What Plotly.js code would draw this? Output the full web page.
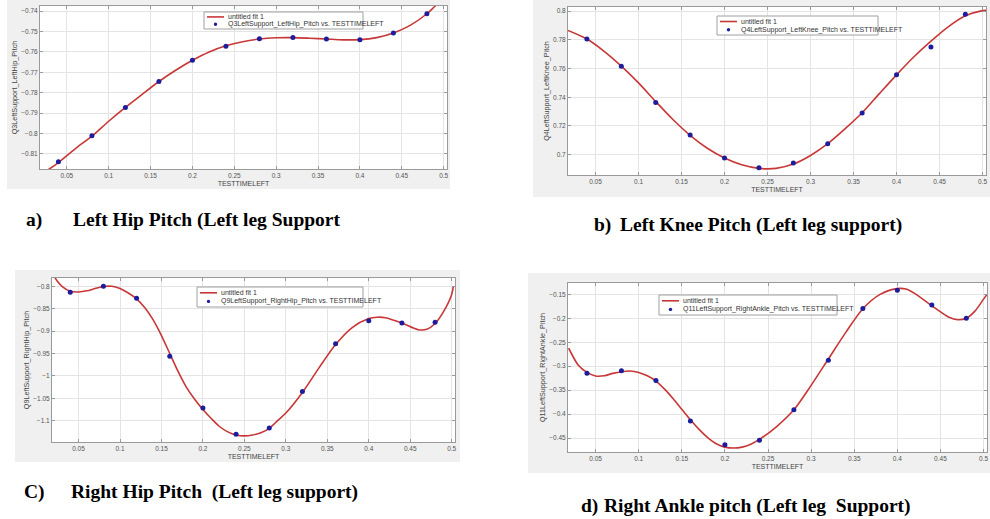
<!DOCTYPE html>
<html>
<head>
<meta charset="utf-8">
<script src="https://cdn.plot.ly/plotly-3.0.1.min.js"></script>
<style>html,body{margin:0;padding:0;background:#fff;}#chart{width:990px;height:519px;}</style>
</head>
<body>
<div id="chart"></div>
<script>
// ---- sample times of measured points ----
const sampleTime = [0.04, 0.08, 0.12, 0.16, 0.20, 0.24, 0.28, 0.32, 0.36, 0.40, 0.44, 0.48];

// ---- measured joint angles ----
const leftHipPitch    = [-0.8139, -0.8011, -0.7872, -0.7745, -0.7641, -0.7572, -0.7536, -0.7529, -0.7537, -0.7540, -0.7507, -0.7413];
const leftKneePitch   = [0.7805, 0.7616, 0.7363, 0.7137, 0.6977, 0.6909, 0.6942, 0.7077, 0.7290, 0.7556, 0.7749, 0.7977];
const rightHipPitch   = [-0.8134, -0.8000, -0.8268, -0.9560, -1.0717, -1.1305, -1.1164, -1.0350, -0.9280, -0.8766, -0.8820, -0.8800];
const rightAnklePitch = [-0.3150, -0.3097, -0.3300, -0.4146, -0.4639, -0.4549, -0.3910, -0.2875, -0.1793, -0.1417, -0.1724, -0.2000];

// ---- fitted curves ("untitled fit 1") ----
const fitTimeA = [0.025, 0.04, 0.06, 0.08, 0.10, 0.12, 0.14, 0.16, 0.18, 0.20, 0.22, 0.24, 0.26, 0.28, 0.30, 0.32, 0.34, 0.36, 0.38, 0.40, 0.42, 0.44, 0.46, 0.48, 0.49, 0.50];
const fitHipL  = [-0.8185, -0.8143, -0.8075, -0.8013, -0.7940, -0.7872, -0.7808, -0.7745, -0.7690, -0.7641, -0.7600, -0.7570, -0.7550, -0.7537, -0.7531, -0.7530, -0.7533, -0.7537, -0.7541, -0.7540, -0.7530, -0.7507, -0.7470, -0.7413, -0.7375, -0.7340];

const fitTimeB = [0.018, 0.04, 0.06, 0.08, 0.10, 0.12, 0.14, 0.16, 0.18, 0.20, 0.22, 0.24, 0.26, 0.28, 0.30, 0.32, 0.34, 0.36, 0.38, 0.40, 0.42, 0.44, 0.46, 0.48, 0.50, 0.504];
const fitKneeL = [0.7865, 0.7805, 0.7720, 0.7617, 0.7500, 0.7370, 0.7245, 0.7135, 0.7045, 0.6977, 0.6930, 0.6905, 0.6905, 0.6935, 0.6995, 0.7077, 0.7180, 0.7292, 0.7425, 0.7556, 0.7680, 0.7790, 0.7890, 0.7967, 0.8003, 0.8005];

const fitTimeC = [0.018, 0.025, 0.03, 0.04, 0.05, 0.06, 0.07, 0.08, 0.09, 0.10, 0.11, 0.12, 0.13, 0.14, 0.15, 0.16, 0.17, 0.18, 0.19, 0.20, 0.21, 0.22, 0.23, 0.24, 0.25, 0.26, 0.27, 0.28, 0.29, 0.30, 0.32, 0.34, 0.36, 0.38, 0.40, 0.41, 0.42, 0.44, 0.46, 0.47, 0.48, 0.49, 0.50, 0.502];
const fitHipR  = [-0.770, -0.790, -0.800, -0.811, -0.8125, -0.810, -0.805, -0.8005, -0.800, -0.805, -0.815, -0.828, -0.848, -0.875, -0.910, -0.950, -0.990, -1.025, -1.052, -1.075, -1.095, -1.113, -1.125, -1.132, -1.134, -1.132, -1.127, -1.117, -1.100, -1.083, -1.037, -0.982, -0.930, -0.892, -0.872, -0.869, -0.870, -0.882, -0.897, -0.896, -0.883, -0.857, -0.818, -0.800];

const fitTimeD = [0.0188, 0.03, 0.04, 0.05, 0.06, 0.07, 0.08, 0.09, 0.10, 0.11, 0.12, 0.13, 0.14, 0.15, 0.16, 0.17, 0.18, 0.19, 0.20, 0.21, 0.22, 0.23, 0.24, 0.26, 0.28, 0.30, 0.32, 0.34, 0.36, 0.38, 0.40, 0.41, 0.42, 0.44, 0.46, 0.47, 0.48, 0.49, 0.50, 0.504];
const fitAnkleR = [-0.2625, -0.298, -0.313, -0.3205, -0.320, -0.315, -0.3115, -0.310, -0.313, -0.320, -0.331, -0.348, -0.368, -0.390, -0.412, -0.432, -0.449, -0.462, -0.469, -0.471, -0.469, -0.463, -0.453, -0.426, -0.391, -0.340, -0.285, -0.230, -0.180, -0.150, -0.138, -0.139, -0.148, -0.174, -0.198, -0.203, -0.200, -0.185, -0.160, -0.150];

// ---- text ----
const yTitles = ["Q3LeftSupport_LeftHip_Pitch", "Q4LeftSupport_LeftKnee_Pitch", "Q9LeftSupport_RightHip_Pitch", "Q11LeftSupport_RightAnkle_Pitch"];
const xTitle = "TESTTIMELEFT";
const fitName = "untitled fit 1";
const captionLabels = ["a)", "b)", "C)", "d)"];
const captionTexts = ["Left Hip Pitch (Left leg Support", "Left Knee Pitch (Left leg support)", "Right Hip Pitch  (Left leg support)", "Right Ankle pitch (Left leg  Support)"];

const W = 990, H = 519;
const px = v => v / W;
const py = v => 1 - v / H;

const FIT_COLOR = '#c83737';
const PT_COLOR = '#1c1c9c';

const panels = [
  {fx: fitTimeA, fy: fitHipL,  pts: leftHipPitch,   box: [40, 447, 6, 169],   yr: [-0.8174, -0.7375], dt: 0.01, leg: [204, 363, 12, 29]},
  {fx: fitTimeB, fy: fitKneeL, pts: leftKneePitch,  box: [568, 986, 7, 175],  yr: [0.6859, 0.8028],   dt: 0.02, leg: [717, 878, 16, 35]},
  {fx: fitTimeC, fy: fitHipR,  pts: rightHipPitch,  box: [52, 455, 278, 442], yr: [-1.1476, -0.7814], dt: 0.05, leg: [197, 363, 287, 307]},
  {fx: fitTimeD, fy: fitAnkleR, pts: rightAnklePitch, box: [568, 987, 283, 452], yr: [-0.4792, -0.1263], dt: 0.05, leg: [659, 837, 295, 315]}
];

const data = [];
const layout = {
  width: W, height: H,
  margin: {l: 0, r: 0, t: 0, b: 0},
  paper_bgcolor: '#ffffff',
  plot_bgcolor: 'rgba(0,0,0,0)',
  font: {family: 'Liberation Sans, Arial, sans-serif', color: '#444'},
  showlegend: false,
  shapes: [],
  annotations: []
};

// gray figure backgrounds
const figBg = [[7, 450, 0, 189], [533, 990, 0, 197], [15, 460, 270, 462], [528, 990, 273, 473]];
figBg.forEach(b => layout.shapes.push({type: 'rect', xref: 'paper', yref: 'paper', x0: px(b[0]), x1: px(b[1]), y0: py(b[3]), y1: py(b[2]), fillcolor: '#f0f0f0', line: {width: 0}, layer: 'below'}));

panels.forEach((p, i) => {
  const n = i + 1;
  const xa = n === 1 ? 'x' : 'x' + n;
  const ya = n === 1 ? 'y' : 'y' + n;
  // white axes background
  layout.shapes.push({type: 'rect', xref: xa + ' domain', yref: ya + ' domain', x0: 0, x1: 1, y0: 0, y1: 1, fillcolor: '#ffffff', line: {width: 0}, layer: 'below'});
  data.push({x: p.fx, y: p.fy, xaxis: xa, yaxis: ya, mode: 'lines', line: {color: FIT_COLOR, width: 1.6, shape: 'spline', smoothing: 0.8}, name: fitName, hoverinfo: 'skip'});
  data.push({x: sampleTime, y: p.pts, xaxis: xa, yaxis: ya, mode: 'markers', marker: {color: PT_COLOR, size: 5}, name: yTitles[i] + ' vs. ' + xTitle});
  const axBase = {
    showgrid: true, gridcolor: '#e4e4e4', gridwidth: 1,
    showline: true, linecolor: '#9a9a9a', linewidth: 1, mirror: 'ticks',
    ticks: 'inside', ticklen: 3, tickcolor: '#9a9a9a',
    zeroline: false, tickfont: {size: 6.5, color: '#555'}, automargin: false
  };
  layout['xaxis' + (n === 1 ? '' : n)] = Object.assign({}, axBase, {
    domain: [px(p.box[0]), px(p.box[1])], anchor: ya, range: [0.018, 0.504],
    tick0: 0.05, dtick: 0.05,
    title: {text: xTitle, font: {size: 7, color: '#444'}, standoff: 3}
  });
  layout['yaxis' + (n === 1 ? '' : n)] = Object.assign({}, axBase, {
    domain: [py(p.box[3]), py(p.box[2])], anchor: xa, range: p.yr,
    tick0: 0, dtick: p.dt,
    title: {text: yTitles[i], font: {size: 7.2, color: '#444'}, standoff: 2}
  });

  // compact MATLAB-style legend box
  const [lx0, lx1, ly0, ly1] = p.leg;
  const r1 = ly0 + (ly1 - ly0) * 0.29, r2 = ly0 + (ly1 - ly0) * 0.72;
  layout.shapes.push({type: 'rect', xref: 'paper', yref: 'paper', x0: px(lx0), x1: px(lx1), y0: py(ly1), y1: py(ly0), fillcolor: '#ffffff', line: {color: '#a0a0a0', width: 1}, layer: 'above'});
  layout.shapes.push({type: 'line', xref: 'paper', yref: 'paper', x0: px(lx0 + 3), x1: px(lx0 + 20), y0: py(r1), y1: py(r1), line: {color: FIT_COLOR, width: 1.6}, layer: 'above'});
  layout.shapes.push({type: 'circle', xref: 'paper', yref: 'paper', x0: px(lx0 + 9.8), x1: px(lx0 + 13.2), y0: py(r2 + 1.7), y1: py(r2 - 1.7), fillcolor: PT_COLOR, line: {width: 0}, layer: 'above'});
  layout.annotations.push({xref: 'paper', yref: 'paper', x: px(lx0 + 22), y: py(r1), xanchor: 'left', yanchor: 'middle', showarrow: false, text: fitName, font: {size: 7, color: '#333'}});
  layout.annotations.push({xref: 'paper', yref: 'paper', x: px(lx0 + 22), y: py(r2), xanchor: 'left', yanchor: 'middle', showarrow: false, text: yTitles[i] + ' vs. ' + xTitle, font: {size: 7, color: '#333'}});
});

// captions
const capLabelPos = [[24, 220], [592, 225], [22, 492], [579, 506]];
const capTextPos = [[71, 220], [618, 225], [69, 492], [602, 506]];
captionTexts.forEach((c, i) => {
  const f = {family: 'Liberation Serif, Times New Roman, serif', size: 19.5, color: '#000'};
  layout.annotations.push({xref: 'paper', yref: 'paper', x: px(capLabelPos[i][0]), y: py(capLabelPos[i][1]), xanchor: 'left', yanchor: 'middle', showarrow: false, text: '<b>' + captionLabels[i] + '</b>', font: f});
  layout.annotations.push({xref: 'paper', yref: 'paper', x: px(capTextPos[i][0]), y: py(capTextPos[i][1]), xanchor: 'left', yanchor: 'middle', showarrow: false, text: '<b>' + c + '</b>', font: f});
});

Plotly.newPlot('chart', data, layout, {displayModeBar: false, staticPlot: true});
</script>
</body>
</html>
